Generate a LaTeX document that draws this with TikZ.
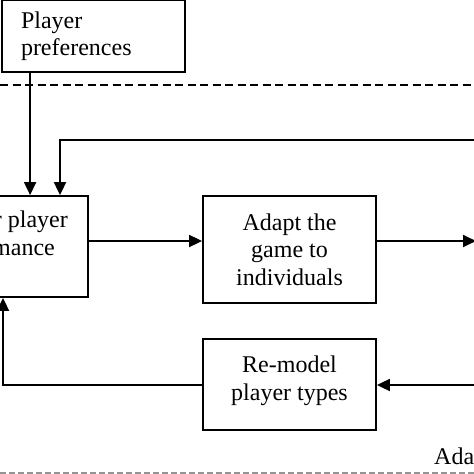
\documentclass[tikz,border=0pt]{standalone}
\usepackage{fontspec}
\setmainfont{Liberation Serif}
\usetikzlibrary{arrows.meta,calc}
\begin{document}
\begin{tikzpicture}[x=1pt,y=-1pt,
  box/.style={draw,line width=1.8pt,inner sep=0pt,align=center,
    font=\fontsize{24}{27.5}\selectfont},
  txt/.style={inner sep=0pt,font=\fontsize{24}{27.5}\selectfont},
  arr/.style={line width=1.8pt,-{Triangle[length=13pt,width=12pt]}},
  ln/.style={line width=1.8pt},
  dashA/.style={line width=1.8pt,dash pattern=on 8pt off 4.5pt},
  dashB/.style={line width=1.8pt,dash pattern=on 6pt off 3pt,draw=black!42}]
\useasboundingbox (0,0) rectangle (474,474);
\clip (0,0) rectangle (474,474);
% boxes
\node[box,minimum width=183pt,minimum height=72pt,text width=145pt,
  inner xsep=19pt,align=left] (pref) at (93.5,36) {Player\\preferences};
\node[box,minimum width=186pt,minimum height=101pt] (mon) at (-5,246.5) {};
\node[txt,anchor=base east] (mon1) at (68,227) {r player};
\node[txt,anchor=base east] (mon2) at (55,255) {mance};
\node[box,minimum width=173pt,minimum height=107pt] (adapt) at (289.5,249.5)
  {Adapt the\\game to\\individuals};
\node[box,minimum width=173pt,minimum height=91pt] (remodel) at (289.5,384.5) {};
\node[txt,align=center] (remodeltxt) at (289.5,381) {Re-model\\player types};
\node[txt,anchor=base west] (ada) at (434,464) {Ada};
% dashed separators
\coordinate (dl1) at (0,85);
\coordinate (dr1) at (474,85);
\draw[dashA] (dl1) -- (dr1);
\coordinate (dl2) at (0,473);
\coordinate (dr2) at (474,473);
\draw[dashB] (dl2) -- (dr2);
% helper coordinates
\coordinate (r1) at (0,241);
\coordinate (r2) at (0,385);
\coordinate (fbR) at (476,140);
\coordinate (fbC) at (60,140);
\coordinate (outR) at (476,241);
\coordinate (inR) at (476,385);
\coordinate (lc) at (3,385);
% connectors
\draw[arr] ([xshift=29pt]pref.south west) coordinate (p1) -- (p1 |- mon.north);
\draw[arr] (fbR) -- (fbC) -- (fbC |- mon.north);
\draw[arr] (mon.east |- r1) -- (adapt.west |- r1);
\draw[arr] (adapt.east |- r1) -- (outR);
\draw[arr] (inR) -- (remodel.east |- r2);
\draw[arr] (remodel.west |- r2) -- (lc) -- (lc |- mon.south);
\end{tikzpicture}
\end{document}
